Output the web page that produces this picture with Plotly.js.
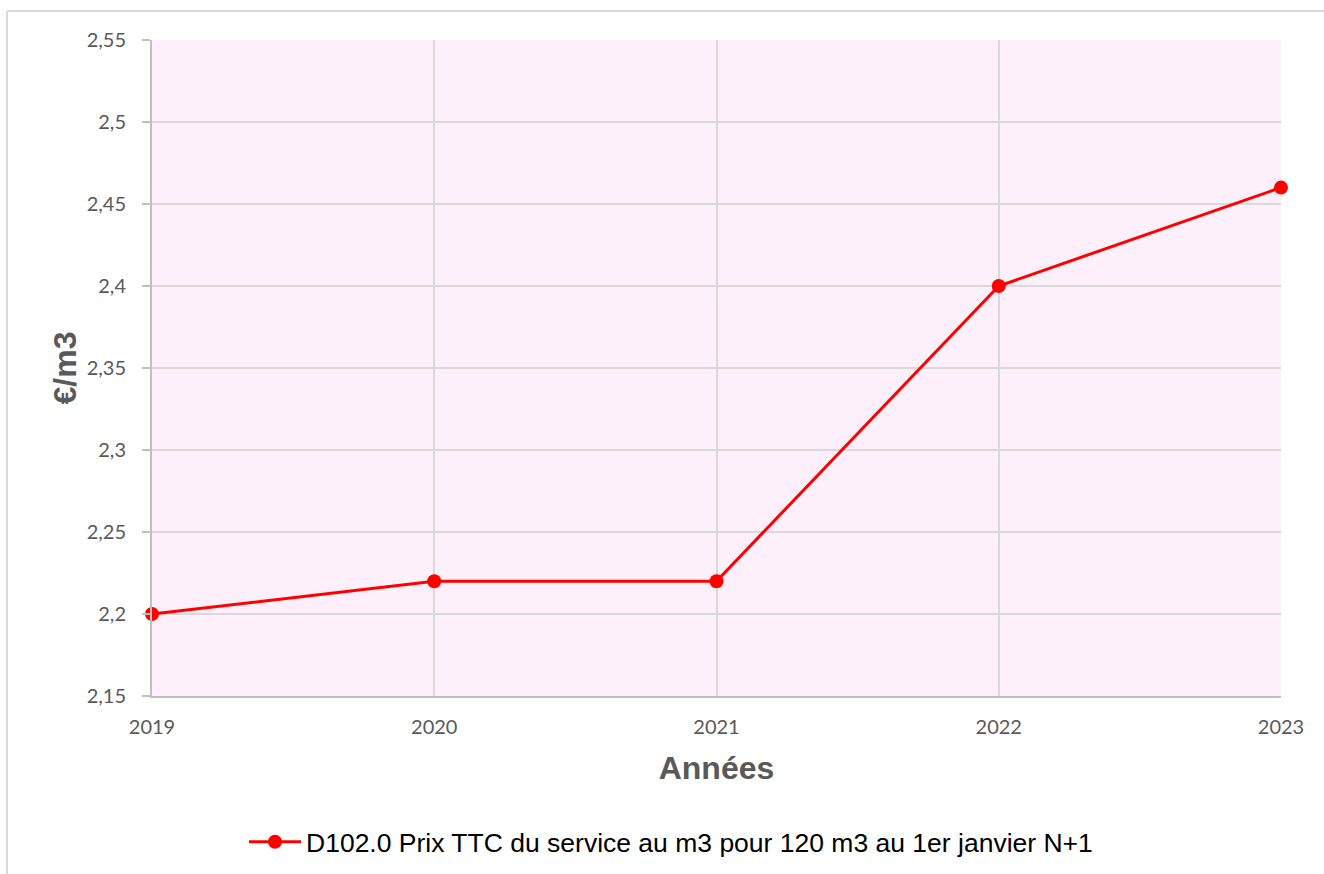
<!DOCTYPE html>
<html>
<head>
<meta charset="utf-8">
<script src="https://cdn.plot.ly/plotly-3.0.1.min.js"></script>
<style>html,body{margin:0;padding:0;background:#fff;}#chart{width:1324px;height:874px;}</style>
</head>
<body>
<div id="chart"></div>
<script>
const years = [2019, 2020, 2021, 2022, 2023];
const prices = [2.20, 2.22, 2.22, 2.40, 2.46];
const seriesName = "D102.0 Prix TTC du service au m3 pour 120 m3 au 1er janvier N+1";
const xTitle = "Années";
const yTitle = "€/m3";

const trace = {
  x: years, y: prices, name: seriesName, type: 'scatter', mode: 'lines+markers',
  line: {color: '#ff0000', width: 3},
  marker: {color: '#ff0000', size: 14},
  cliponaxis: false
};

const layout = {
  width: 1324, height: 874,
  margin: {l: 152, r: 43, t: 40, b: 178, autoexpand: false},
  paper_bgcolor: '#ffffff',
  plot_bgcolor: '#fdf0fb',
  separators: ', ',
  showlegend: true,
  xaxis: {
    type: 'linear', range: [2019, 2023], tickvals: years, ticktext: years.map(String),
    showgrid: true, gridcolor: '#d9d9d9', gridwidth: 2,
    showline: true, linecolor: '#bfbfbf', linewidth: 2,
    ticks: '', zeroline: false, ticklabelstandoff: 12,
    tickfont: {family: 'Lato, Carlito, sans-serif', size: 20, color: '#595959'},
    title: {text: xTitle, standoff: 20, font: {family: 'Liberation Sans, Arial, sans-serif', size: 32, color: '#595959', weight: 'bold'}}
  },
  yaxis: {
    range: [2.15, 2.55], dtick: 0.05, tick0: 2.15,
    showgrid: true, gridcolor: '#d9d9d9', gridwidth: 2,
    showline: true, linecolor: '#bfbfbf', linewidth: 2,
    ticks: 'outside', ticklen: 8, tickcolor: '#bfbfbf', tickwidth: 2,
    zeroline: false, ticklabelstandoff: 12,
    tickfont: {family: 'Lato, Carlito, sans-serif', size: 20, color: '#595959'},
    title: {text: yTitle, standoff: 0, font: {family: 'Liberation Sans, Arial, sans-serif', size: 32, color: '#595959', weight: 'bold'}}
  },
  legend: {
    orientation: 'h', xref: 'container', yref: 'container',
    x: 0.1843, xanchor: 'left', y: 0.0366, yanchor: 'middle',
    itemwidth: 52,
    font: {family: 'Liberation Sans, Arial, sans-serif', size: 26.5, color: '#000000'},
    bgcolor: 'rgba(0,0,0,0)'
  },
  shapes: [
    {type: 'line', xref: 'paper', yref: 'paper', x0: -0.1284, x1: 1.06, y0: 1.0442, y1: 1.0442, line: {color: '#d9d9d9', width: 2}},
    {type: 'line', xref: 'paper', yref: 'paper', x0: -0.1284, x1: -0.1284, y0: 1.0442, y1: -0.3, line: {color: '#d9d9d9', width: 2}}
  ]
};

Plotly.newPlot('chart', [trace], layout, {displayModeBar: false, staticPlot: true});
</script>
</body>
</html>
